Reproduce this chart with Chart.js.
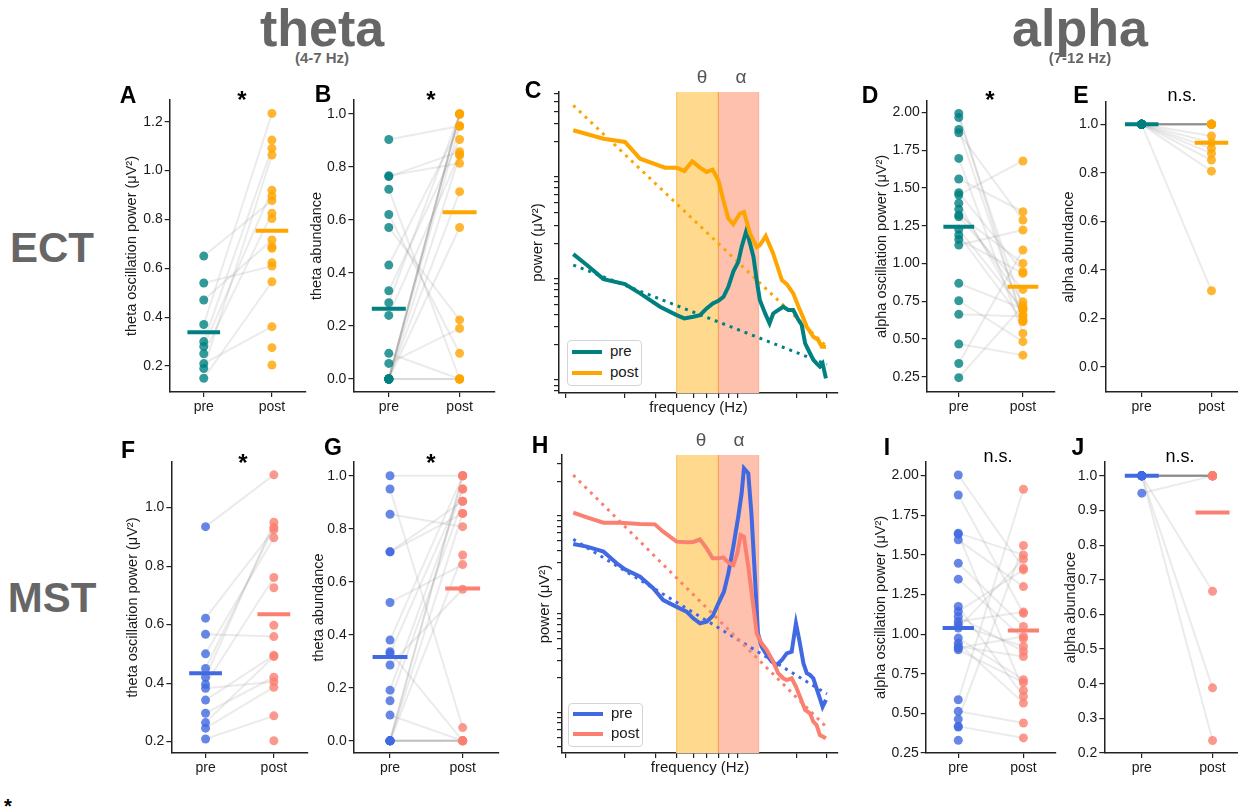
<!DOCTYPE html>
<html><head><meta charset="utf-8"><title>theta / alpha oscillations</title>
<script src="https://cdn.jsdelivr.net/npm/chart.js@4.4.1/dist/chart.umd.min.js"></script>
<style>
html,body{margin:0;padding:0;background:#fff;}
body{position:relative;width:1238px;height:811px;overflow:hidden;font-family:"Liberation Sans",Arial,Helvetica,sans-serif;}
canvas{position:absolute;}
.t{position:absolute;line-height:0;white-space:nowrap;transform:translateX(-50%);}
.lg{position:absolute;border:1px solid #d4d4d4;border-radius:4px;background:#fff;box-sizing:border-box;}
.sw{position:absolute;height:4px;width:30px;}
.lt{position:absolute;line-height:0;font-size:15px;color:#1a1a1a;white-space:nowrap;}
</style></head><body>
<script>
// ---------------- DATA ----------------
const conditions = ['pre', 'post'];

// A: ECT theta oscillation power
const ectThetaPowPre  = [0.65,0.54,0.47,0.37,0.30,0.28,0.25,0.21,0.19,0.15,null,null,null,null,null,null,null,null];
const ectThetaPowPost = [0.877,0.609,0.716,1.234,1.091,0.920,0.825,0.361,1.064,0.545,1.125,0.896,0.804,0.688,0.682,0.623,0.275,0.204];
const ectThetaPowMean = [0.338,0.754];
// B: ECT theta abundance
const ectThetaAbPre  = [0.904,0.767,0.764,0.716,0.621,0.572,0.430,0.333,0.288,0.240,0.097,0.059,0,0,0,0,0,0,0,0,0,0];
const ectThetaAbPost = [0.955,0.814,0.858,0.0,0.097,0.223,0.955,0.904,1.0,0.849,0.0,0.191,1.0,1.0,1.0,1.0,0.955,0.844,0.707,0.572,0.0,0.0];
const ectThetaAbMean = [0.265,0.629];
// D: ECT alpha oscillation power
const ectAlphaPowPre  = [1.993,1.965,1.887,1.865,1.695,1.559,1.468,1.453,1.398,1.358,1.320,1.309,1.226,1.188,1.159,1.122,0.868,0.753,0.663,0.466,0.338,0.244];
const ectAlphaPowPost = [0.614,0.703,0.630,1.287,0.537,1.342,0.945,1.678,0.66,0.747,1.000,0.828,0.692,0.62,0.934,1.221,0.70,0.482,0.648,0.393,1.089,0.72];
const ectAlphaPowMean = [1.243,0.846];
// E: ECT alpha abundance
const ectAlphaAbPre  = [1,1,1,1,1,1,1,1,1,1,1,1,1,1,1,1,1,1];
const ectAlphaAbPost = [1,1,1,1,1,1,1,1,1,1,1,0.952,0.924,0.901,0.880,0.853,0.807,0.314];
const ectAlphaAbMean = [1.0,0.924];
// F: MST theta oscillation power
const mstThetaPowPre  = [0.935,0.622,0.567,0.500,0.450,0.420,0.396,0.382,0.342,0.297,0.265,0.246,0.209,null,null,null];
const mstThetaPowPost = [1.112,0.924,0.559,0.897,0.933,0.950,0.761,0.405,0.495,0.420,0.491,0.386,0.288,0.726,0.598,0.203];
const mstThetaPowMean = [0.434,0.635];
// G: MST theta abundance
const mstThetaAbPre  = [1.0,0.950,0.855,0.713,0.713,0.522,0.380,0.336,0.330,0.286,0.191,0.151,0.097,0,0,0,0,0,0,0,0];
const mstThetaAbPost = [1.0,0.050,0.808,0.904,0.858,0.665,1.0,0.0,0.950,0.572,0.95,0.904,0.0,1.0,1.0,0.858,0.701,0.0,0.0,0.0,0.0];
const mstThetaAbMean = [0.316,0.575];
// I: MST alpha oscillation power
const mstAlphaPowPre  = [2.004,1.878,1.637,1.630,1.595,1.447,1.347,1.174,1.143,1.111,1.080,1.059,1.038,0.975,0.943,0.922,0.912,0.901,0.586,0.513,0.464,0.418,0.414,0.330];
const mstAlphaPowPost = [1.416,1.132,1.500,0.645,1.300,1.048,0.971,0.607,1.405,0.891,1.139,0.922,1.473,0.712,0.565,0.859,0.985,0.695,1.914,0.439,1.559,0.345,null,null];
const mstAlphaPowMean = [1.038,1.023];
// J: MST alpha abundance
const mstAlphaAbPre  = [1,1,1,1,1,1,1,1,1,1,1,1,1,1,1,0.95];
const mstAlphaAbPost = [1,1,1,1,1,1,1,1,1,1,1,1,0.667,0.388,0.236,1];
const mstAlphaAbMean = [1.0,0.894];

// C: ECT power spectra
const ectPreFreq  = [1.0,1.2,1.5,2.0,2.45,3.2,4.0,4.43,5.0,5.47,5.98,6.5,7.0,7.5,8.0,8.55,9.14,9.56,10.2,10.7,11.2,11.7,12.2,13.1,13.9,14.6,15.6,16.7,17.9,19.1,20.5,21.4,22.4,23.9,25.0,26.1,27.3,28.3,29.6];
const ectPrePow   = [1.56,1.22,0.887,0.791,0.641,0.474,0.392,0.364,0.378,0.392,0.456,0.511,0.542,0.594,0.745,1.05,1.31,1.84,2.69,1.99,1.47,0.866,0.551,0.407,0.325,0.407,0.439,0.474,0.439,0.439,0.350,0.313,0.206,0.165,0.142,0.131,0.122,0.131,0.0934];
const ectPostFreq = [1.0,1.5,2.0,2.45,3.42,4.0,4.43,4.93,5.47,5.98,6.48,7.0,7.48,8.0,8.55,9.35,9.86,10.7,11.7,12.2,13.2,14.6,16.4,17.5,19.1,20.5,21.9,22.9,23.9,25.0,26.7,28.0,29.6];
const ectPostPow  = [25.9,21.4,19.9,13.6,11.1,11.1,10.3,12.8,11.1,10.07,10.6,8.34,5.30,3.50,3.08,3.92,4.07,2.49,1.84,1.91,2.35,1.58,0.866,0.791,0.641,0.474,0.364,0.301,0.269,0.240,0.223,0.191,0.191];
// H: MST power spectra
const mstPreFreq  = [1.0,1.2,1.5,1.79,2.0,2.45,2.92,3.34,4.0,4.57,5.0,5.47,5.98,6.48,7.0,7.54,8.0,8.55,9.14,9.56,9.86,10.45,10.9,11.4,11.9,12.5,13.4,14.3,15.3,16.4,17.5,18.7,19.8,20.7,21.9,22.9,23.9,25.0,26.1,27.3,28.3,29.6];
const mstPrePow   = [4.62,4.34,3.86,2.94,2.55,2.15,1.64,1.24,1.06,0.947,0.810,0.721,0.749,0.855,1.15,1.51,2.32,4.34,8.75,15.1,27.2,24.2,9.47,2.32,0.570,0.417,0.343,0.294,0.272,0.305,0.357,0.371,0.721,0.488,0.282,0.224,0.215,0.199,0.157,0.124,0.102,0.120];
const mstPostFreq = [1.0,1.2,1.5,1.87,2.45,2.99,3.34,4.0,4.57,5.0,5.47,5.98,6.48,7.0,7.48,8.0,8.55,9.02,9.44,9.86,10.45,11.2,11.7,12.5,13.4,14.6,15.6,16.7,17.5,18.7,19.8,20.9,22.4,23.9,25.0,26.1,27.3,29.6];
const mstPostPow  = [9.62,8.63,7.61,7.61,7.38,7.31,6.16,4.88,4.80,4.84,5.15,4.17,3.30,3.30,3.38,2.98,2.82,3.71,5.70,5.48,2.72,1.06,0.570,0.451,0.386,0.294,0.224,0.199,0.191,0.199,0.164,0.129,0.0947,0.0876,0.0721,0.0667,0.0527,0.0488];
// aperiodic fits (straight in log-log)
const fitFreq    = [1, 30];
const ectPreFit  = [1.22, 0.128];
const ectPostFit = [45.6, 0.191];
const mstPreFit  = [5.15, 0.138];
const mstPostFit = [23.2, 0.0626];
const thetaBand = [4, 7];
const alphaBand = [7, 12];

// tick values
const ticksThetaPowECT = [0.2,0.4,0.6,0.8,1.0,1.2];
const ticksAbundance   = [0.0,0.2,0.4,0.6,0.8,1.0];
const ticksAlphaPow    = [0.25,0.5,0.75,1.0,1.25,1.5,1.75,2.0];
const ticksThetaPowMST = [0.2,0.4,0.6,0.8,1.0];
const ticksAlphaAbMST  = [0.2,0.3,0.4,0.5,0.6,0.7,0.8,0.9,1.0];
const freqTicks   = [0.9,2,3,4,5,6,7,8,9,20,30];
const powTicksECT = [0.07,0.08,0.09,0.2,0.3,0.4,0.5,0.6,0.7,0.8,0.9,2,3,4,5,6,7,8,9,20,30,40,50,60];
const powTicksMST = [0.04,0.05,0.06,0.07,0.08,0.09,0.2,0.3,0.4,0.5,0.6,0.7,0.8,0.9,2,3,4,5,6,7,8,9,20,30];

// ---------------- STYLE ----------------
const TEAL='#008080', ORANGE='#FFA500', BLUE='#4169E1', SALMON='#FA8072';
const AX='#222', TXT='#1a1a1a';
const TICK_PX=14, YTITLE_PX=14.5, SPEC_TITLE_PX=15;
Chart.defaults.font.family='"Liberation Sans", Arial, Helvetica, sans-serif';
Chart.defaults.color=TXT;

function rgba(hex,a){const n=parseInt(hex.slice(1),16);return `rgba(${n>>16},${(n>>8)&255},${n&255},${a})`;}
function gridOpt(){return {display:true,drawOnChartArea:false,drawTicks:true,tickLength:5,color:AX,lineWidth:1.2};}
function borderOpt(){return {display:true,color:AX,width:1.5};}

function mk(rect, Yw, Xh, cfg, plugins){
  const padL=8,padT=16,padR=8,padB=8;
  const c=document.createElement('canvas');
  const w=Math.round(rect[2]-rect[0]+Yw+padL+padR), h=Math.round(rect[3]-rect[1]+Xh+padT+padB);
  c.width=w;c.height=h;c.style.width=w+'px';c.style.height=h+'px';
  c.style.left=(rect[0]-Yw-padL)+'px';c.style.top=(rect[1]-padT)+'px';
  document.body.appendChild(c);
  const o=cfg.options;
  o.responsive=false;o.maintainAspectRatio=false;o.devicePixelRatio=1;o.animation=false;o.events=[];
  o.layout={autoPadding:false,padding:{left:padL,top:padT,right:padR,bottom:padB}};
  o.plugins={legend:{display:false},tooltip:{enabled:false}};
  o.scales.x.afterFit=s=>{s.height=Xh;s.paddingLeft=0;s.paddingRight=0;s.paddingTop=0;s.paddingBottom=0;};
  o.scales.y.afterFit=s=>{s.width=Yw;s.paddingTop=0;s.paddingBottom=0;s.paddingLeft=0;s.paddingRight=0;};
  cfg.plugins=plugins||[];
  return new Chart(c,cfg);
}

function strip(rect, Yw, xr, yr, yTicks, dec, title, pre, post, means, c1, c2){
  const ds=[];
  ds.push({type:'scatter',showLine:true,data:[{x:-0.24,y:means[0]},{x:0.24,y:means[0]}],borderColor:c1,borderWidth:4,pointRadius:0,order:0});
  ds.push({type:'scatter',showLine:true,data:[{x:0.76,y:means[1]},{x:1.24,y:means[1]}],borderColor:c2,borderWidth:4,pointRadius:0,order:0});
  ds.push({type:'scatter',data:pre.filter(v=>v!==null).map(v=>({x:0,y:v})),backgroundColor:rgba(c1,0.8),pointRadius:4.5,borderWidth:0,order:1});
  ds.push({type:'scatter',data:post.filter(v=>v!==null).map(v=>({x:1,y:v})),backgroundColor:rgba(c2,0.8),pointRadius:4.5,borderWidth:0,order:1});
  for(let i=0;i<Math.min(pre.length,post.length);i++){
    if(pre[i]===null||post[i]===null) continue;
    ds.push({type:'scatter',showLine:true,data:[{x:0,y:pre[i]},{x:1,y:post[i]}],borderColor:'rgba(120,120,120,0.15)',borderWidth:2,pointRadius:0,order:2});
  }
  mk(rect,Yw,26,{type:'scatter',data:{datasets:ds},options:{scales:{
    x:{type:'linear',min:xr[0],max:xr[1],
       afterBuildTicks:s=>{s.ticks=[{value:0},{value:1}];},
       ticks:{font:{size:TICK_PX},padding:2,color:TXT,maxRotation:0,autoSkip:false,callback:v=>v===0?conditions[0]:(v===1?conditions[1]:'')},
       grid:gridOpt(),border:borderOpt()},
    y:{type:'linear',min:yr[0],max:yr[1],
       afterBuildTicks:s=>{s.ticks=yTicks.map(v=>({value:v}));},
       ticks:{font:{size:TICK_PX},padding:2,color:TXT,autoSkip:false,callback:v=>Number(v).toFixed(dec)},
       title:{display:true,text:title,font:{size:YTITLE_PX},color:TXT,padding:0},
       grid:gridOpt(),border:borderOpt()}
  }}});
}

function spectrum(rect, Yw, xr, yr, yTicks, preF, preP, postF, postP, preFit, postFit, c1, c2){
  const pts=(f,p)=>f.map((v,i)=>({x:v,y:p[i]}));
  const ds=[
    {type:'scatter',showLine:true,data:pts(postF,postP),borderColor:c2,borderWidth:4,pointRadius:0,order:0},
    {type:'scatter',showLine:true,data:pts(preF,preP),borderColor:c1,borderWidth:4,pointRadius:0,order:1},
    {type:'scatter',showLine:true,data:pts(fitFreq,postFit),borderColor:c2,borderWidth:3,borderDash:[3,5],pointRadius:0,order:2},
    {type:'scatter',showLine:true,data:pts(fitFreq,preFit),borderColor:c1,borderWidth:3,borderDash:[3,5],pointRadius:0,order:2}
  ];
  const bands={id:'bands',beforeDatasetsDraw(ch){
    const {ctx,chartArea:a,scales:{x}}=ch;
    const x4=x.getPixelForValue(thetaBand[0]), x7=x.getPixelForValue(thetaBand[1]), x12=x.getPixelForValue(alphaBand[1]);
    ctx.save();
    ctx.fillStyle='#FED98E';ctx.fillRect(x4,a.top,x7-x4,a.bottom-a.top);
    ctx.fillStyle='#FDC1AD';ctx.fillRect(x7,a.top,x12-x7,a.bottom-a.top);
    ctx.lineWidth=1.2;
    ctx.strokeStyle='#FCC76A';ctx.beginPath();ctx.moveTo(x4,a.top);ctx.lineTo(x4,a.bottom);ctx.stroke();
    ctx.strokeStyle='#F8A055';ctx.beginPath();ctx.moveTo(x7,a.top);ctx.lineTo(x7,a.bottom);ctx.stroke();
    ctx.strokeStyle='#FBB49E';ctx.beginPath();ctx.moveTo(x12,a.top);ctx.lineTo(x12,a.bottom);ctx.stroke();
    ctx.restore();
  }};
  mk(rect,Yw,24,{type:'scatter',data:{datasets:ds},options:{scales:{
    x:{type:'logarithmic',min:xr[0],max:xr[1],
       afterBuildTicks:s=>{s.ticks=freqTicks.map(v=>({value:v}));},
       ticks:{display:false},
       title:{display:true,text:'frequency (Hz)',font:{size:SPEC_TITLE_PX},color:TXT,padding:0},
       grid:gridOpt(),border:borderOpt()},
    y:{type:'logarithmic',min:yr[0],max:yr[1],
       afterBuildTicks:s=>{s.ticks=yTicks.map(v=>({value:v}));},
       ticks:{display:false},
       title:{display:true,text:'power (μV²)',font:{size:SPEC_TITLE_PX},color:TXT,padding:0},
       grid:gridOpt(),border:borderOpt()}
  }}},[bands]);
}

// ---------------- PANELS ----------------
strip([170,100,306,392],46.7,[-0.5,1.5],[0.0936,1.289],ticksThetaPowECT,1,'theta oscillation power (μV²)',ectThetaPowPre,ectThetaPowPost,ectThetaPowMean,TEAL,ORANGE);
strip([353,100,495,392],45.4,[-0.5,1.5],[-0.049,1.053],ticksAbundance,1,'theta abundance',ectThetaAbPre,ectThetaAbPost,ectThetaAbMean,TEAL,ORANGE);
spectrum([559,92,838,393],30,[0.826,34.8],[0.067,61.7],powTicksECT,ectPreFreq,ectPrePow,ectPostFreq,ectPostPow,ectPreFit,ectPostFit,TEAL,ORANGE);
strip([927,101,1055,392],53.7,[-0.5,1.5],[0.149,2.075],ticksAlphaPow,2,'alpha oscillation power (μV²)',ectAlphaPowPre,ectAlphaPowPost,ectAlphaPowMean,TEAL,ORANGE);
strip([1105,102,1238,392],45.4,[-0.52,1.38],[-0.103,1.092],ticksAbundance,1,'alpha abundance',ectAlphaAbPre,ectAlphaAbPost,ectAlphaAbMean,TEAL,ORANGE);

strip([171,462,308,753],47.4,[-0.5,1.5],[0.161,1.156],ticksThetaPowMST,1,'theta oscillation power (μV²)',mstThetaPowPre,mstThetaPowPost,mstThetaPowMean,BLUE,SALMON);
strip([354,462,499,753],43.7,[-0.5,1.5],[-0.046,1.052],ticksAbundance,1,'theta abundance',mstThetaAbPre,mstThetaAbPost,mstThetaAbMean,BLUE,SALMON);
spectrum([562,455,838,753],26,[0.86,34.8],[0.0346,37.1],powTicksMST,mstPreFreq,mstPrePow,mstPostFreq,mstPostPow,mstPreFit,mstPostFit,BLUE,SALMON);
strip([926,462,1056,753],53.7,[-0.5,1.5],[0.25,2.086],ticksAlphaPow,2,'alpha oscillation power (μV²)',mstAlphaPowPre,mstAlphaPowPost,mstAlphaPowMean,BLUE,SALMON);
strip([1104,462,1238,753],42.3,[-0.53,1.36],[0.2,1.040],ticksAlphaAbMST,1,'alpha abundance',mstAlphaAbPre,mstAlphaAbPost,mstAlphaAbMean,BLUE,SALMON);

// ---------------- TEXT ----------------
function txt(s,cx,cy,size,weight,color,kind){
  const d=document.createElement('div');d.className='t';d.textContent=s;
  let top=cy;
  if(kind==='x') top=cy-0.087*size;
  else if(kind==='star') top=cy+0.21*size;
  else if(kind==='base') top=cy-0.3465*size;
  d.style.left=cx+'px';d.style.top=top+'px';d.style.fontSize=size+'px';d.style.fontWeight=weight;d.style.color=color;
  document.body.appendChild(d);
}
const GR='#666';
txt('theta',322,28,52,'bold',GR,'cap');
txt('(4-7 Hz)',322,58,15,'bold',GR,'cap');
txt('alpha',1080,28,52,'bold',GR,'cap');
txt('(7-12 Hz)',1080,58,15,'bold',GR,'cap');
txt('ECT',52,248,42,'bold',GR,'cap');
txt('MST',52,598,42,'bold',GR,'cap');
[['A',128,95],['B',323,94],['C',533,90],['D',870,95],['E',1081,95],
 ['F',128,450],['G',333,447],['H',540,445],['I',887,447],['J',1078,447]].forEach(p=>txt(p[0],p[1],p[2],23,'bold','#000','cap'));
[[242,95],[431,95],[990,95],[243,458],[431,458]].forEach(p=>txt('*',p[0],p[1],24,'bold','#000','star'));
[[1182,97],[998,458],[1180,458]].forEach(p=>txt('n.s.',p[0],p[1],18,'normal','#000','x'));
txt('θ',702,83.3,19,'normal','#555','base');
txt('α',741,83.3,19,'normal','#555','base');
txt('θ',701,447,19,'normal','#555','base');
txt('α',739,447,19,'normal','#555','base');
txt('*',8,802,20,'bold','#000','star');

function legend(x,y,w,h,rows){
  const b=document.createElement('div');b.className='lg';
  b.style.left=x+'px';b.style.top=y+'px';b.style.width=w+'px';b.style.height=h+'px';
  document.body.appendChild(b);
  rows.forEach(r=>{
    const s=document.createElement('div');s.className='sw';s.style.background=r.c;s.style.left=(x+5)+'px';s.style.top=(r.y-2)+'px';
    document.body.appendChild(s);
    const t=document.createElement('div');t.className='lt';t.textContent=r.t;t.style.left=(x+43)+'px';t.style.top=(r.y-1.3)+'px';
    document.body.appendChild(t);
  });
}
legend(567,340,75,46,[{t:conditions[0],c:TEAL,y:352},{t:conditions[1],c:ORANGE,y:373}]);
legend(568,703,75,44,[{t:conditions[0],c:BLUE,y:714},{t:conditions[1],c:SALMON,y:734}]);
</script>
</body></html>
